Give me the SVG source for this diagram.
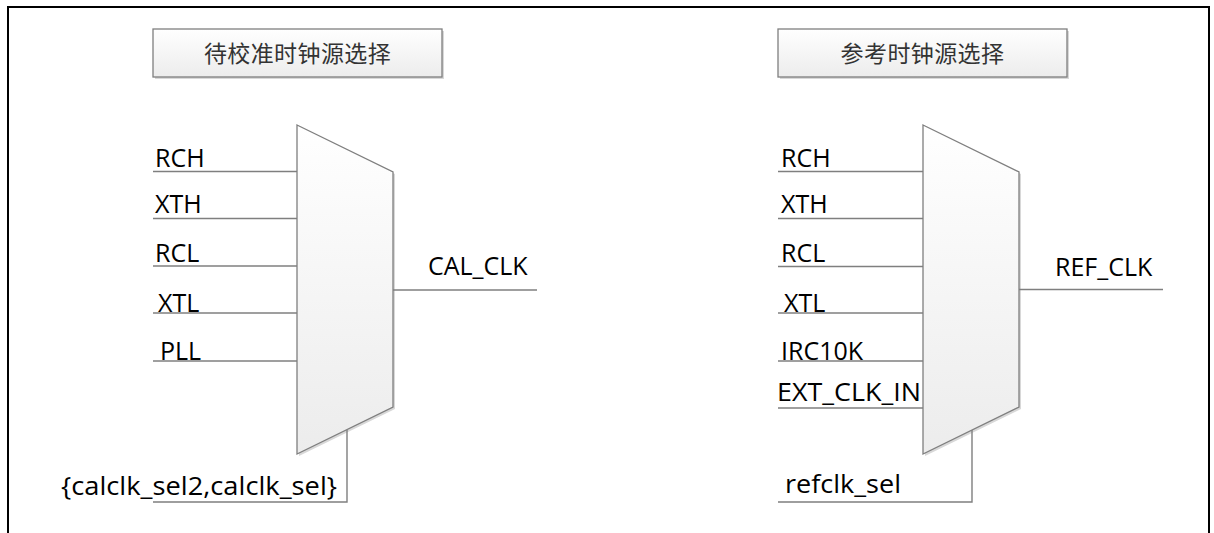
<svg xmlns="http://www.w3.org/2000/svg" width="1214" height="533" viewBox="0 0 1214 533">
  <style>
    .lbl { font-family: "Open Sans", "Liberation Sans", sans-serif; font-size: 25px; fill: #000; }
    .ttl { font-family: "Noto Sans CJK SC", sans-serif; font-size: 23px; letter-spacing: 0.4px; fill: #333; text-anchor: middle; }
    .wire { stroke: #7f7f7f; stroke-width: 1.4; fill: none; }
    .box { fill: url(#gBox); stroke: #7f7f7f; stroke-width: 1.3; }
    .shadow { fill: #d8d8d8; stroke: none; }
    .frame { stroke: #000; stroke-width: 2; fill: none; }
  </style>
  <defs>
    <linearGradient id="gBox" x1="0" y1="0" x2="0" y2="1">
      <stop offset="0" stop-color="#ffffff"/>
      <stop offset="1" stop-color="#ececec"/>
    </linearGradient>
  </defs>
  <rect x="0" y="0" width="1214" height="533" fill="#fff"/>
  <path class="frame" d="M8,540 V7 H1209 V540"/>

  <g id="title-cal">
    <rect class="shadow" x="155" y="31" width="289" height="48"/>
    <rect class="box" x="153" y="29" width="289" height="48"/>
    <text class="ttl" x="297.5" y="61.5">待校准时钟源选择</text>
  </g>
  <g id="title-ref">
    <rect class="shadow" x="780" y="31" width="289" height="48"/>
    <rect class="box" x="778" y="29" width="289" height="48"/>
    <text class="ttl" x="922.5" y="61.5">参考时钟源选择</text>
  </g>

  <g id="mux-cal">
    <polygon class="shadow" points="299,127 395,174 395,409 299,456"/>
    <polygon class="box" points="297,125 393,172 393,407 297,454"/>
  </g>
  <g id="mux-ref">
    <polygon class="shadow" points="925,127 1021,174 1021,409 925,456"/>
    <polygon class="box" points="923,125 1019,172 1019,407 923,454"/>
  </g>

  <g id="connectors">
    <line class="wire" x1="153" y1="171.5" x2="297" y2="171.5"/>
    <line class="wire" x1="153" y1="218.5" x2="297" y2="218.5"/>
    <line class="wire" x1="153" y1="266" x2="297" y2="266"/>
    <line class="wire" x1="153" y1="313" x2="297" y2="313"/>
    <line class="wire" x1="153" y1="361" x2="297" y2="361"/>
    <line class="wire" x1="393" y1="290" x2="537" y2="290"/>
    <polyline class="wire" points="347,430 347,502 153,502"/>

    <line class="wire" x1="778" y1="171.5" x2="923" y2="171.5"/>
    <line class="wire" x1="778" y1="218.5" x2="923" y2="218.5"/>
    <line class="wire" x1="778" y1="266.5" x2="923" y2="266.5"/>
    <line class="wire" x1="778" y1="313" x2="923" y2="313"/>
    <line class="wire" x1="778" y1="361" x2="923" y2="361"/>
    <line class="wire" x1="778" y1="408" x2="923" y2="408"/>
    <line class="wire" x1="1019" y1="289.5" x2="1163" y2="289.5"/>
    <polyline class="wire" points="972,430 972,502 778,502"/>
  </g>

  <g id="labels-cal">
    <text class="lbl" x="155" y="167">RCH</text>
    <text class="lbl" x="155" y="213">XTH</text>
    <text class="lbl" x="155" y="262">RCL</text>
    <text class="lbl" x="158" y="312">XTL</text>
    <text class="lbl" x="160" y="360">PLL</text>
    <text class="lbl" x="428" y="275">CAL_CLK</text>
    <text class="lbl" x="61" y="495" textLength="276" lengthAdjust="spacingAndGlyphs">{calclk_sel2,calclk_sel}</text>
  </g>
  <g id="labels-ref">
    <text class="lbl" x="781" y="167">RCH</text>
    <text class="lbl" x="781" y="213">XTH</text>
    <text class="lbl" x="781" y="262">RCL</text>
    <text class="lbl" x="784" y="312">XTL</text>
    <text class="lbl" x="781" y="360">IRC10K</text>
    <text class="lbl" x="777" y="401" textLength="144" lengthAdjust="spacingAndGlyphs">EXT_CLK_IN</text>
    <text class="lbl" x="1055" y="276">REF_CLK</text>
    <text class="lbl" x="785" y="493" textLength="116" lengthAdjust="spacingAndGlyphs">refclk_sel</text>
  </g>
</svg>
